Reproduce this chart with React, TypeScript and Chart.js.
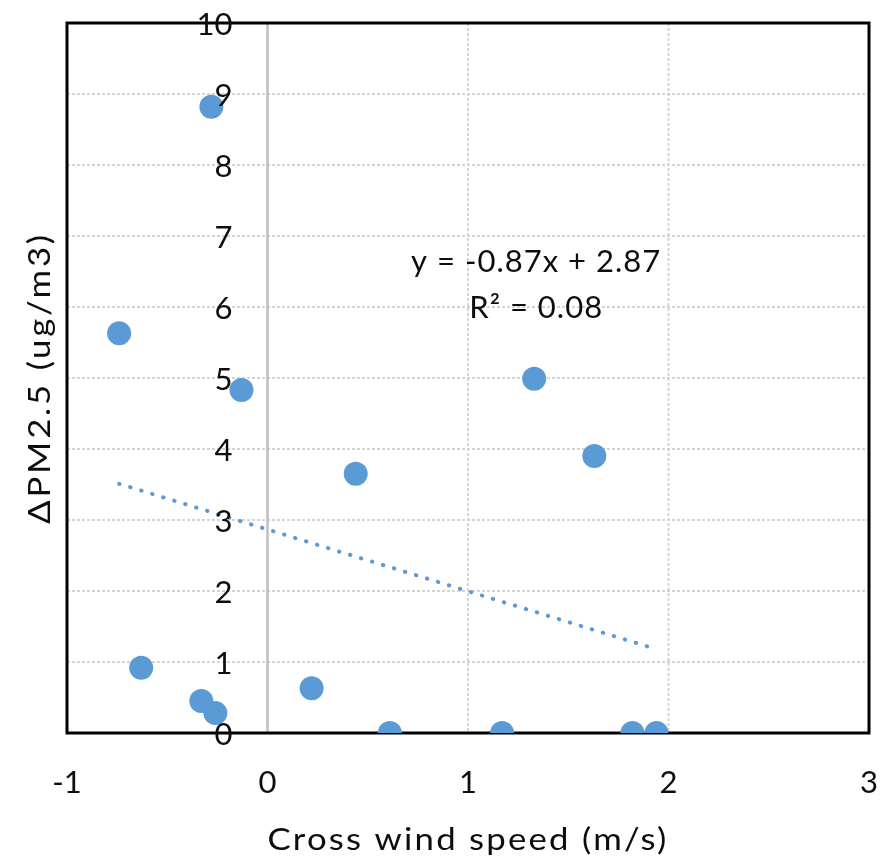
import React, { useEffect, useRef } from "react";
import { Chart, registerables } from "chart.js";

Chart.register(...registerables);

const windX = [-0.28, -0.74, -0.13, 1.33, 1.63, 0.44, -0.63, 0.22, -0.33, -0.26, 0.61, 1.17, 1.82, 1.94];
const pmY = [8.82, 5.63, 4.83, 4.99, 3.9, 3.65, 0.92, 0.63, 0.45, 0.28, 0, 0, 0, 0];
const trendX = [-0.74, 1.94];
const trendY = [3.51, 1.18];
const xTickValues = [-1, 0, 1, 2, 3];
const yTickValues = [0, 1, 2, 3, 4, 5, 6, 7, 8, 9, 10];
const xTitle = "Cross wind speed (m/s)";
const yTitle = "\u0394PM2.5 (ug/m3)";
const equationLines = ["y = -0.87x + 2.87", "R\u00B2 = 0.08"];
const equationX = 1.34;
const equationY = [6.5, 5.84];

const FONT = "Lato, 'Open Sans', sans-serif";
const BLUE = "#5B9BD5";
const INK = "#0d0d0d";

const decorPlugin = {
  id: "decor",
  beforeDatasetsDraw(chart: any) {
    const { ctx, chartArea: a, scales } = chart;
    const xs = scales.x;
    const ys = scales.y;
    ctx.save();
    ctx.strokeStyle = "#d4d4d4";
    ctx.lineWidth = 2;
    ctx.setLineDash([3, 2]);
    for (const v of yTickValues) {
      if (v === 0 || v === 10) continue;
      const y = ys.getPixelForValue(v);
      ctx.beginPath();
      ctx.moveTo(a.left, y);
      ctx.lineTo(a.right, y);
      ctx.stroke();
    }
    for (const v of xTickValues) {
      if (v <= 0 || v === 3) continue;
      const x = xs.getPixelForValue(v);
      ctx.beginPath();
      ctx.moveTo(x, a.top);
      ctx.lineTo(x, a.bottom);
      ctx.stroke();
    }
    ctx.setLineDash([]);
    ctx.strokeStyle = "#bfbfbf";
    ctx.lineWidth = 2.5;
    const x0 = xs.getPixelForValue(0);
    ctx.beginPath();
    ctx.moveTo(x0, a.top);
    ctx.lineTo(x0, a.bottom);
    ctx.stroke();
    ctx.strokeStyle = "#000";
    ctx.lineWidth = 3;
    ctx.strokeRect(a.left, a.top, a.right - a.left, a.bottom - a.top);
    ctx.restore();
  },
  afterDatasetsDraw(chart: any) {
    const { ctx, chartArea: a, scales } = chart;
    const xs = scales.x;
    const ys = scales.y;
    ctx.save();
    ctx.fillStyle = INK;
    ctx.font = `31px ${FONT}`;
    ctx.textBaseline = "alphabetic";
    ctx.textAlign = "right";
    const lx = xs.getPixelForValue(0) - 35;
    for (const v of yTickValues) {
      ctx.fillText(String(v), lx, ys.getPixelForValue(v) + 11.5);
    }
    ctx.textAlign = "center";
    for (const v of xTickValues) {
      ctx.fillText(String(v), xs.getPixelForValue(v), a.bottom + 60);
    }
    (ctx as any).letterSpacing = "1px";
    equationLines.forEach((t, i) => {
      ctx.fillText(t, xs.getPixelForValue(equationX), ys.getPixelForValue(equationY[i]));
    });
    // x title (slightly widened glyphs)
    (ctx as any).letterSpacing = "2px";
    ctx.save();
    ctx.translate((a.left + a.right) / 2, a.bottom + 117);
    ctx.scale(1.12, 1);
    ctx.fillText(xTitle, 0, 0);
    ctx.restore();
    // y title
    (ctx as any).letterSpacing = "2.5px";
    ctx.save();
    ctx.translate(50, (a.top + a.bottom) / 2);
    ctx.rotate(-Math.PI / 2);
    ctx.scale(1.12, 1);
    ctx.fillText(yTitle, 0, 0);
    ctx.restore();
    ctx.restore();
  },
};

export default function App() {
  const ref = useRef<HTMLCanvasElement>(null);
  useEffect(() => {
    if (!ref.current) return;
    const chart = new Chart(ref.current, {
      type: "scatter",
      data: {
        datasets: [
          {
            type: "line",
            data: trendX.map((x, i) => ({ x, y: trendY[i] })),
            borderColor: BLUE,
            borderWidth: 4,
            borderDash: [0.5, 11],
            borderCapStyle: "round",
            pointRadius: 0,
            fill: false,
          } as any,
          {
            data: windX.map((x, i) => ({ x, y: pmY[i] })),
            backgroundColor: BLUE,
            borderColor: BLUE,
            pointRadius: 12,
            pointHoverRadius: 12,
            borderWidth: 0,
          },
        ],
      },
      options: {
        responsive: false,
        animation: false,
        devicePixelRatio: 1,
        layout: { padding: { left: 67, right: 26, top: 23, bottom: 132 } },
        plugins: { legend: { display: false }, tooltip: { enabled: false } },
        scales: {
          x: { type: "linear", min: -1, max: 3, display: false },
          y: { type: "linear", min: 0, max: 10, display: false },
        },
      },
      plugins: [decorPlugin],
    });
    return () => chart.destroy();
  }, []);
  return (
    <div style={{ position: "absolute", left: 0, top: 0 }}>
      <canvas ref={ref} width={895} height={865} />
    </div>
  );
}
